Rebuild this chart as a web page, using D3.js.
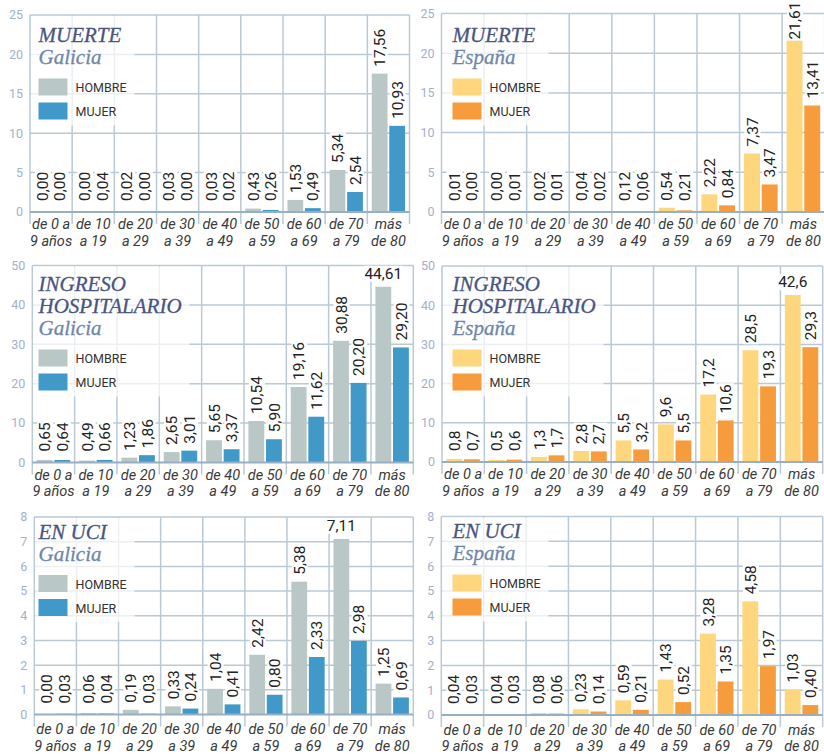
<!DOCTYPE html>
<html><head><meta charset="utf-8">
<script src="https://cdn.jsdelivr.net/npm/d3@7"></script>
<style>body{margin:0;background:#fff}svg{display:block}</style>
</head><body><svg id="c" width="824" height="756"></svg>
<script>
const categories = [["de 0 a","9 años"],["de 10","a 19"],["de 20","a 29"],["de 30","a 39"],["de 40","a 49"],["de 50","a 59"],["de 60","a 69"],["de 70","a 79"],["más","de 80"]];
const seriesNames = ["HOMBRE","MUJER"];

const muerteGaliciaHombre = [0.00,0.00,0.02,0.03,0.03,0.43,1.53,5.34,17.56];
const muerteGaliciaMujer  = [0.00,0.04,0.00,0.00,0.02,0.26,0.49,2.54,10.93];
const muerteEspanaHombre  = [0.01,0.00,0.02,0.04,0.12,0.54,2.22,7.37,21.61];
const muerteEspanaMujer   = [0.00,0.01,0.01,0.02,0.06,0.21,0.84,3.47,13.41];
const ingresoGaliciaHombre = [0.65,0.49,1.23,2.65,5.65,10.54,19.16,30.88,44.61];
const ingresoGaliciaMujer  = [0.64,0.66,1.86,3.01,3.37,5.90,11.62,20.20,29.20];
const ingresoEspanaHombre  = [0.8,0.5,1.3,2.8,5.5,9.6,17.2,28.5,42.6];
const ingresoEspanaMujer   = [0.7,0.6,1.7,2.7,3.2,5.5,10.6,19.3,29.3];
const uciGaliciaHombre = [0.00,0.06,0.19,0.33,1.04,2.42,5.38,7.11,1.25];
const uciGaliciaMujer  = [0.03,0.04,0.03,0.24,0.41,0.80,2.33,2.98,0.69];
const uciEspanaHombre  = [0.04,0.04,0.08,0.23,0.59,1.43,3.28,4.58,1.03];
const uciEspanaMujer   = [0.03,0.03,0.06,0.14,0.21,0.52,1.35,1.97,0.40];

const yTicksMuerte  = [0,5,10,15,20,25];
const yTicksIngreso = [0,10,20,30,40,50];
const yTicksUci     = [0,1,2,3,4,5,6,7,8];

const palette = {"Galicia":["#b9c8c7","#4099c8"], "España":["#fed67e","#f79c3d"]};

const panels = [
  {title:["MUERTE"], region:"Galicia", hombre:muerteGaliciaHombre, mujer:muerteGaliciaMujer, ticks:yTicksMuerte, dec:2, flatTop:false,
   x0:30, x1:409.5, yTop:15, yBot:212, titleOff:27, catOff:0},
  {title:["MUERTE"], region:"España", hombre:muerteEspanaHombre, mujer:muerteEspanaMujer, ticks:yTicksMuerte, dec:2, flatTop:false,
   x0:441.5, x1:824.7, yTop:13.5, yBot:212, titleOff:28.5, catOff:0},
  {title:["INGRESO","HOSPITALARIO"], region:"Galicia", hombre:ingresoGaliciaHombre, mujer:ingresoGaliciaMujer, ticks:yTicksIngreso, dec:2, flatTop:true,
   x0:32.3, x1:413.3, yTop:265.5, yBot:462.5, titleOff:25.5, catOff:0},
  {title:["INGRESO","HOSPITALARIO"], region:"España", hombre:ingresoEspanaHombre, mujer:ingresoEspanaMujer, ticks:yTicksIngreso, dec:1, flatTop:true,
   x0:442, x1:822.7, yTop:266, yBot:462, titleOff:25, catOff:0},
  {title:["EN UCI"], region:"Galicia", hombre:uciGaliciaHombre, mujer:uciGaliciaMujer, ticks:yTicksUci, dec:2, flatTop:true,
   x0:34.3, x1:413.3, yTop:517, yBot:714.5, titleOff:21.5, catOff:2.5},
  {title:["EN UCI"], region:"España", hombre:uciEspanaHombre, mujer:uciEspanaMujer, ticks:yTicksUci, dec:2, flatTop:false,
   x0:441.3, x1:822.7, yTop:516.5, yBot:715, titleOff:21.5, catOff:2.5}
];

const SANS = "Roboto, 'Liberation Sans', Arial, sans-serif";
const SERIF = "'Liberation Serif', 'DejaVu Serif', serif";
const GRID = "#b9c9d6";
const svg = d3.select("#c");

panels.forEach((p, pi) => {
  const g = svg.append("g");
  const maxV = d3.max(p.ticks);
  const y = d3.scaleLinear().domain([0, maxV]).range([p.yBot, p.yTop]);
  const x = d3.scaleBand().domain(d3.range(categories.length)).range([p.x0, p.x1]).padding(0);
  const bw = x.bandwidth();
  const xi = d3.scaleBand().domain(seriesNames).range([0.105*bw, 0.895*bw]).paddingInner(0.1);
  const cols = palette[p.region];
  const fmt = v => d3.format("." + p.dec + "f")(v).replace(".", ",");

  // horizontal gridlines
  g.selectAll(".hg").data(p.ticks.filter(t => t > 0)).join("line")
    .attr("x1", p.x0).attr("x2", p.x1)
    .attr("y1", d => y(d)).attr("y2", d => y(d))
    .attr("stroke", GRID).attr("stroke-width", 1.5);
  // vertical gridlines at band boundaries
  const bounds = d3.range(categories.length + 1).map(i => i < categories.length ? x(i) : p.x1);
  g.selectAll(".vg").data(bounds).join("line")
    .attr("x1", d => d).attr("x2", d => d)
    .attr("y1", p.yTop).attr("y2", p.yBot + 12)
    .attr("stroke", GRID).attr("stroke-width", 1.5);

  // title / legend
  const tx = (pi % 2 === 0) ? 38.5 : 452.5;
  const overlay = g.append("rect").attr("fill", "#fff").attr("opacity", 0.72);
  const tg = g.append("g");
  const by = p.yTop + p.titleOff;
  const lines = p.title.concat([p.region]);
  lines.forEach((t, i) => {
    const isRegion = i === lines.length - 1;
    const c = isRegion ? "#6f86aa" : "#4a5482";
    tg.append("text").attr("x", tx).attr("y", by + i*22)
      .attr("font-family", SERIF).attr("font-style", "italic")
      .attr("font-size", 21)
      .attr("fill", c).attr("stroke", c).attr("stroke-width", 0.3)
      .text(t);
  });
  const sw1 = by + (lines.length - 1)*22 + 14.5;
  seriesNames.forEach((s, i) => {
    const sy = sw1 + i*24;
    tg.append("rect").attr("x", tx).attr("y", sy).attr("width", 29).attr("height", 17).attr("fill", cols[i]);
    tg.append("text").attr("x", tx + 37).attr("y", sy + 13.5)
      .attr("font-family", SANS).attr("font-size", 12.5).attr("fill", "#333").text(s);
  });
  const tb = tg.node().getBBox();
  overlay.attr("x", p.x0 + 1).attr("y", p.yTop + 1)
    .attr("width", tb.x + tb.width + 8 - (p.x0 + 1))
    .attr("height", sw1 + 24 + 17 + 6 - (p.yTop + 1));

  // bars
  const rows = categories.map((c, i) => ({i, vals: [p.hombre[i], p.mujer[i]]}));
  const bg = g.insert("g", () => tg.node());
  rows.forEach(r => {
    r.vals.forEach((v, k) => {
      bg.append("rect")
        .attr("x", x(r.i) + xi(seriesNames[k]))
        .attr("width", xi.bandwidth())
        .attr("y", y(v)).attr("height", p.yBot - y(v))
        .attr("fill", cols[k]);
    });
  });

  // axis line
  g.append("line").attr("x1", p.x0).attr("x2", p.x1).attr("y1", p.yBot).attr("y2", p.yBot)
    .attr("stroke", "#98aec3").attr("stroke-width", 2.2);

  // value labels
  const maxAll = d3.max(p.hombre.concat(p.mujer));
  rows.forEach(r => {
    r.vals.forEach((v, k) => {
      const cx = x(r.i) + xi(seriesNames[k]) + xi.bandwidth()/2;
      const lg = g.append("g");
      const t = lg.append("text").attr("font-family", SANS)
        .attr("font-size", 15.5).attr("fill", "#222").text(fmt(v));
      if (p.flatTop && v === maxAll) {
        t.attr("x", cx).attr("y", y(v) - 8).attr("text-anchor", "middle");
      } else {
        t.attr("x", 0).attr("y", 0).attr("dy", "0.36em");
        const len = t.node().getComputedTextLength();
        let base = Math.min(y(v) - 7, p.yBot - 11);
        base = Math.max(base, len + 1.5);
        lg.attr("transform", `translate(${cx},${base}) rotate(-90)`);
      }
      const b = t.node().getBBox();
      lg.insert("rect", "text").attr("x", b.x - 1).attr("y", b.y + 1).attr("width", b.width + 2).attr("height", b.height - 2).attr("fill", "#fff");
    });
  });

  // y tick labels
  g.selectAll(".yt").data(p.ticks).join("text")
    .attr("x", p.x0 - 7).attr("y", d => y(d)).attr("dy", "0.35em")
    .attr("text-anchor", "end").attr("font-family", SANS).attr("font-size", 12.5)
    .attr("fill", "#a2b1cc").text(d => d);

  // category labels
  categories.forEach((c, i) => {
    c.forEach((line, j) => {
      g.append("text").attr("x", x(i) + bw/2).attr("y", p.yBot + 17 + p.catOff + j*16.5)
        .attr("text-anchor", "middle").attr("font-family", SANS).attr("font-style", "italic")
        .attr("font-size", 14.5).attr("fill", "#3a3a3a").text(line);
    });
  });
});
</script></body></html>
